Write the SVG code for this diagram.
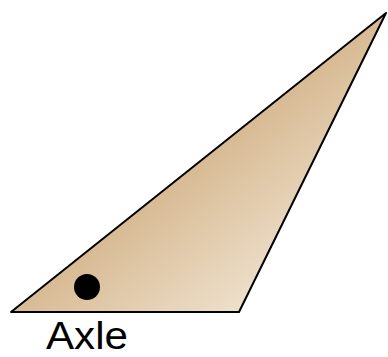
<svg xmlns="http://www.w3.org/2000/svg" width="388" height="357" viewBox="0 0 388 357">
<defs>
<linearGradient id="g" x1="150" y1="180" x2="260" y2="320" gradientUnits="userSpaceOnUse">
<stop offset="0" stop-color="#d5b68d"/>
<stop offset="1" stop-color="#f1e5d3"/>
</linearGradient>
</defs>
<style>.lbl{font-family:"Liberation Sans",Arial,sans-serif;font-size:39px;fill:#000}</style>
<g id="plate">
<polygon points="11,312 239,312 386,13" fill="url(#g)" stroke="#000" stroke-width="2" stroke-linejoin="round"/>
</g>
<g id="axle">
<circle cx="87" cy="287" r="13" fill="#000"/>
<text class="lbl" x="46" y="349" textLength="82" lengthAdjust="spacingAndGlyphs">Axle</text>
</g>
</svg>
